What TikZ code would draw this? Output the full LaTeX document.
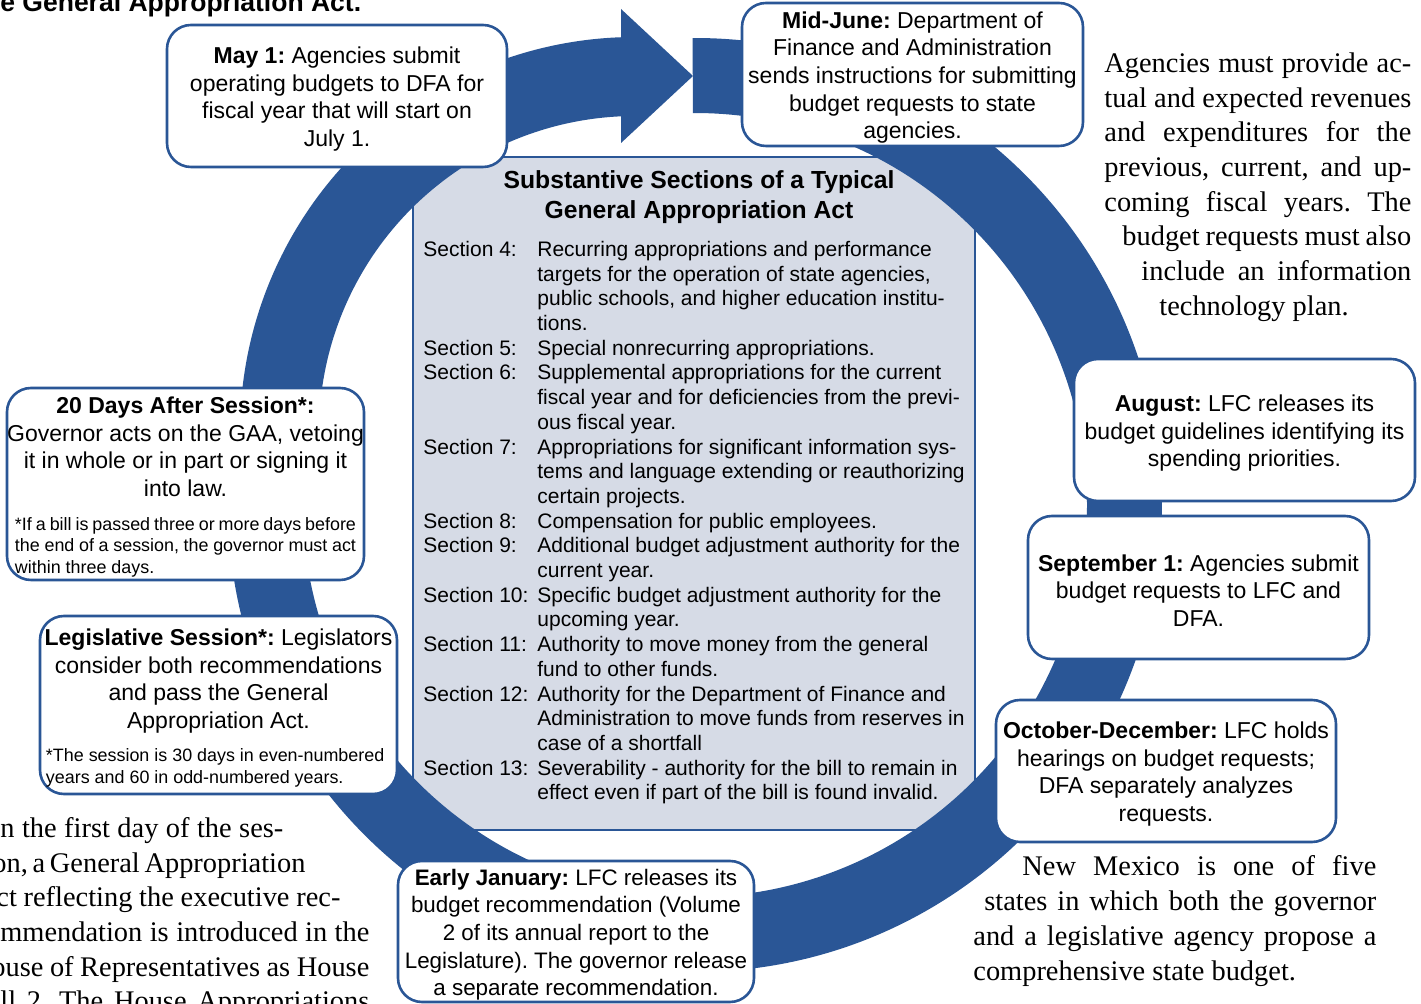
\documentclass[tikz,border=0pt]{standalone}
\usepackage{fontspec}
\setmainfont{Liberation Serif}
\setsansfont{Liberation Sans}
\usetikzlibrary{calc}
\definecolor{ringblue}{RGB}{42,86,150}
\definecolor{boxgray}{RGB}{214,219,230}
\frenchspacing
\hbadness=10000 \hfuzz=20pt
\newcommand\smallnote{\fontsize{8.95}{10.75}\selectfont}
\newcommand\firstgap{\rule{0pt}{11.4pt}}
\newcommand\jline[3]{\hspace*{#1}\makebox[#2][s]{#3}}

\begin{document}
\begin{tikzpicture}[x=0.5pt,y=-0.5pt,
  stage/.style={draw=ringblue, line width=1.3pt, fill=white, rounded corners=12pt,
    align=center, inner sep=0pt, font=\sffamily\fontsize{11.5}{13.8}\selectfont},
  prose/.style={inner sep=0pt, anchor=base west, font=\rmfamily\fontsize{14.2}{17.35}\selectfont}]
\path[use as bounding box, fill=white] (0,0) rectangle (1421,1004);

% centre panel
\node[draw=ringblue, line width=1pt, fill=boxgray, minimum width=281pt, minimum height=336.5pt, inner sep=0pt] (gaa) at (694,493.5) {};

% the cycle ring and its arrow
\coordinate (ringc) at (695,505);
\coordinate (arrc) at (635,432);
\fill[ringblue] ($(ringc)+(-90.3:467)$) arc[start angle=-90.3, end angle=192, radius=467]
  -- ($(ringc)+(192:392)$) arc[start angle=192, end angle=-90.3, radius=392] -- cycle;
\fill[ringblue] ($(arrc)+(165:395)$) arc[start angle=165, end angle=268, radius=395]
  -- (621,9) -- (693,76) -- (621,143)
  -- ($(arrc)+(267.5:316)$) arc[start angle=267.5, end angle=165, radius=316] -- cycle;

\node[anchor=base, inner sep=0pt, font=\sffamily\bfseries\fontsize{12.35}{15}\selectfont] (gaatitle) at (699,189)
  {\begin{tabular}[t]{@{}c@{}}Substantive Sections of a Typical\\ General Appropriation Act\end{tabular}};
\node[anchor=base west, inner sep=0pt, font=\sffamily\fontsize{10.5}{12.35}\selectfont] (sections) at (423,256.5)
  {\begin{tabular}[t]{@{}p{57pt}@{}l@{}}
  Section 4: & Recurring appropriations and performance\\
   & targets for the operation of state agencies,\\
   & public schools, and higher education institu-\\
   & tions.\\
  Section 5: & Special nonrecurring appropriations.\\
  Section 6: & Supplemental appropriations for the current\\
   & fiscal year and for deficiencies from the previ-\\
   & ous fiscal year.\\
  Section 7: & Appropriations for significant information sys-\\
   & tems and language extending or reauthorizing\\
   & certain projects.\\
  Section 8: & Compensation for public employees.\\
  Section 9: & Additional budget adjustment authority for the\\
   & current year.\\
  Section 10: & Specific budget adjustment authority for the\\
   & upcoming year.\\
  Section 11: & Authority to move money from the general\\
   & fund to other funds.\\
  Section 12: & Authority for the Department of Finance and\\
   & Administration to move funds from reserves in\\
   & case of a shortfall\\
  Section 13: & Severability - authority for the bill to remain in\\
   & effect even if part of the bill is found invalid.
  \end{tabular}};

% stages of the cycle
\node[stage, minimum width=170pt, minimum height=71pt] (may) at (337,96)
  {\firstgap\textbf{May 1:} Agencies submit\\ operating budgets to DFA for\\ fiscal year that will start on\\ July 1.};
\node[stage, minimum width=170.5pt, minimum height=71.5pt] (june) at (912.5,74.5)
  {\firstgap\textbf{Mid-June:} Department of\\ Finance and Administration\\ sends instructions for submitting\\ budget requests to state\\ agencies.};
\node[stage, minimum width=170.5pt, minimum height=71pt] (aug) at (1244.5,430)
  {\firstgap\textbf{August:} LFC releases its\\ budget guidelines identifying its\\ spending priorities.};
\node[stage, minimum width=170.5pt, minimum height=71.5pt] (sep) at (1198.5,587.5)
  {\firstgap\textbf{September 1:} Agencies submit\\ budget requests to LFC and\\ DFA.};
\node[stage, minimum width=170pt, minimum height=71pt] (oct) at (1166,771)
  {\firstgap\textbf{October-December:} LFC holds\\ hearings on budget requests;\\ DFA separately analyzes\\ requests.};
\node[stage, minimum width=178pt, minimum height=70.5pt, font=\sffamily\fontsize{11.2}{13.8}\selectfont] (jan) at (576,931.5)
  {\firstgap\textbf{Early January:} LFC releases its\\ budget recommendation (Volume\\ 2 of its annual report to the\\ Legislature). The governor release\\ a separate recommendation.};
\node[stage, minimum width=178.5pt, minimum height=89pt] (leg) at (218.5,705)
  {\firstgap\textbf{Legislative Session*:} Legislators\\ consider both recommendations\\ and pass the General\\ Appropriation Act.\\[2.8pt]
  \parbox[t]{172.5pt}{\smallnote *The session is 30 days in even-numbered\\ years and 60 in odd-numbered years.}};
\node[stage, minimum width=178.5pt, minimum height=96pt] (gov) at (185.5,484)
  {\firstgap\textbf{20 Days After Session*:}\\ Governor acts on the GAA, vetoing\\ it in whole or in part or signing it\\ into law.\\[3.2pt]
  \parbox[t]{170.5pt}{\smallnote *If a bill is passed three or more days before\\ the end of a session, the governor must act\\ within three days.}};

% running text around the figure
\node[anchor=base west, inner sep=0pt, font=\sffamily\bfseries\fontsize{13.25}{16}\selectfont] (acthead) at (0,12)
  {e General Appropriation Act.};
\node[prose] (revtext) at (1104,72.5)
  {\begin{tabular}[t]{@{}l@{}}
  \jline{0pt}{153.5pt}{Agencies must provide ac-}\\
  \jline{0pt}{153.5pt}{tual and expected revenues}\\
  \jline{0pt}{153.5pt}{and expenditures for the}\\
  \jline{0pt}{153.5pt}{previous, current, and up-}\\
  \jline{0pt}{153.5pt}{coming fiscal years. The}\\
  \jline{9pt}{144.5pt}{budget requests must also}\\
  \jline{18.5pt}{135pt}{include an information}\\
  \hspace*{27.5pt}technology plan.
  \end{tabular}};
\node[prose] (nmtext) at (973,876)
  {\begin{tabular}[t]{@{}l@{}}
  \jline{24.5pt}{177pt}{New Mexico is one of five}\\
  \jline{5.5pt}{196pt}{states in which both the governor}\\
  \jline{0pt}{201.5pt}{and a legislative agency propose a}\\
  comprehensive state budget.
  \end{tabular}};
\node[prose] (billtext) at (0,837.5)
  {\begin{tabular}[t]{@{}l@{}}
  \jline{0pt}{141.5pt}{n the first day of the ses-}\\
  \jline{-4pt}{155.5pt}{on, a General Appropriation}\\
  \jline{-2pt}{172pt}{ct reflecting the executive rec-}\\
  \jline{0pt}{184.5pt}{mmendation is introduced in the}\\
  \jline{-4.5pt}{189pt}{ouse of Representatives as House}\\
  \jline{0pt}{184.5pt}{ll 2. The House Appropriations}
  \end{tabular}};
\end{tikzpicture}
\end{document}
